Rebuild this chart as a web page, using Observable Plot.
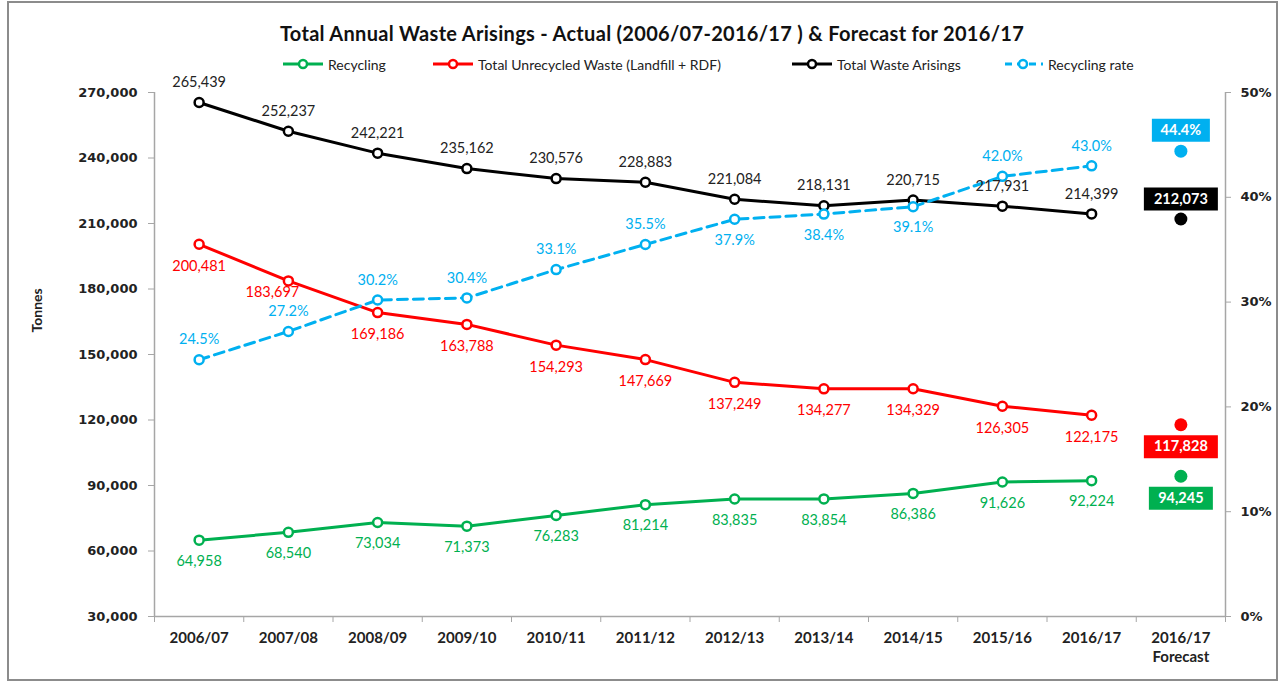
<!DOCTYPE html>
<html><head><meta charset="utf-8">
<script src="https://cdn.jsdelivr.net/npm/d3@7"></script>
<script src="https://cdn.jsdelivr.net/npm/@observablehq/plot@0.6"></script>
<style>
body{margin:0;background:#fff;}
#wrap{position:relative;width:1282px;height:682px;overflow:hidden;font-family:Lato,"Noto Sans",sans-serif;background:#fff;}
#border{position:absolute;left:7px;top:1px;width:1267px;height:676px;border:2px solid #8c8c8c;pointer-events:none;}
#title{height:50px;box-sizing:border-box;padding-top:22px;line-height:22px;font-size:20px;letter-spacing:0.3px;font-weight:bold;color:#111;text-align:center;padding-left:22px;white-space:nowrap;}
#legend{position:relative;height:28px;font-size:14px;color:#222;}
.item{position:absolute;top:0;height:28px;display:flex;align-items:center;white-space:nowrap;}
.item svg{margin-right:5px}
#chart svg{display:block;}
</style></head>
<body>
<div id="wrap">
  <div id="title">Total Annual Waste Arisings - Actual (2006/07-2016/17 ) &amp; Forecast for 2016/17</div>
  <div id="legend"></div>
  <div id="chart"></div>
  <div id="border"></div>
</div>
<script>
// ---- data ----
const categories = ["2006/07","2007/08","2008/09","2009/10","2010/11","2011/12","2012/13","2013/14","2014/15","2015/16","2016/17","2016/17\nForecast"];
const recycling  = [64958, 68540, 73034, 71373, 76283, 81214, 83835, 83854, 86386, 91626, 92224];
const unrecycled = [200481, 183697, 169186, 163788, 154293, 147669, 137249, 134277, 134329, 126305, 122175];
const totalWaste = [265439, 252237, 242221, 235162, 230576, 228883, 221084, 218131, 220715, 217931, 214399];
const recyclingRate = [24.5, 27.2, 30.2, 30.4, 33.1, 35.5, 37.9, 38.4, 39.1, 42.0, 43.0];
const forecastRecycling = 94245;
const forecastUnrecycled = 117828;
const forecastTotal = 212073;
const forecastRate = 44.4;
const tonnesTicks = [30000, 60000, 90000, 120000, 150000, 180000, 210000, 240000, 270000];
const rateTicks = [0, 10, 20, 30, 40, 50];
const seriesNames = ["Recycling", "Total Unrecycled Waste (Landfill + RDF)", "Total Waste Arisings", "Recycling rate"];

// ---- styles ----
const GREEN = "#00B050", RED = "#FF0000", BLACK = "#000000", BLUE = "#00B0F0";
const AXIS = "#a6a6a6", TXT = "#222";
const leftDomain = [30000, 270000], rightDomain = [0, 50];
const rateToT = d3.scaleLinear().domain(rightDomain).range(leftDomain);
const fmt = d3.format(",");
const pct = d => d.toFixed(1) + "%";

const nActual = recyclingRate.length;
const rows = d3.range(nActual).map(i => ({
  i, rec: recycling[i], unr: unrecycled[i], tot: totalWaste[i],
  rate: recyclingRate[i], rateT: rateToT(recyclingRate[i])
}));
const fi = categories.length - 1;

// legend
const legend = document.getElementById("legend");
const legendStyle = [
  {color: GREEN, dash: null, left: 283},
  {color: RED, dash: null, left: 433},
  {color: BLACK, dash: null, left: 792},
  {color: BLUE, dash: "7,5", left: 1003}
];
seriesNames.forEach((name, k) => {
  const s = legendStyle[k];
  const div = document.createElement("div");
  div.className = "item";
  div.style.left = s.left + "px";
  div.innerHTML = `<svg width="40" height="14"><line x1="0" y1="7" x2="40" y2="7" stroke="${s.color}" stroke-width="3" ${s.dash ? `stroke-dasharray="${s.dash}" stroke-dashoffset="-2"` : ""}/><circle cx="20" cy="7" r="4" fill="white" stroke="${s.color}" stroke-width="2.5"/></svg><span>${name}</span>`;
  legend.appendChild(div);
});

function box(w, h) {
  return {draw(ctx) {
    ctx.moveTo(-w / 2, -h / 2); ctx.lineTo(w / 2, -h / 2);
    ctx.lineTo(w / 2, h / 2); ctx.lineTo(-w / 2, h / 2); ctx.closePath();
  }};
}

const labelFont = {fontSize: 14.5, fontFamily: "Lato, sans-serif"};
const boxFont = {fontSize: 14.5, fontFamily: "Lato, sans-serif", fontWeight: "bold", fill: "white"};

const forecastItems = [
  {y: rateToT(forecastRate), text: pct(forecastRate), color: BLUE, dy: -21, w: 58},
  {y: forecastTotal, text: fmt(forecastTotal), color: BLACK, dy: -20, w: 74},
  {y: forecastUnrecycled, text: fmt(forecastUnrecycled), color: RED, dy: 22, w: 74},
  {y: forecastRecycling, text: fmt(forecastRecycling), color: GREEN, dy: 22, w: 64},
];

const blueBelow = new Set([6, 7, 8]);

const plot = Plot.plot({
  width: 1282, height: 604,
  marginTop: 14, marginBottom: 66, marginLeft: 154, marginRight: 57,
  x: {type: "linear", domain: [-0.5, categories.length - 0.5], axis: null},
  y: {type: "linear", domain: leftDomain, axis: null},
  style: {fontFamily: "Lato, sans-serif", overflow: "visible"},
  marks: [
    // frame lines
    Plot.ruleY([leftDomain[0]], {stroke: AXIS, strokeWidth: 1.5}),
    Plot.ruleX([-0.5, categories.length - 0.5], {y1: leftDomain[0], y2: leftDomain[1], stroke: AXIS, strokeWidth: 1.5}),
    // left axis
    Plot.axisY({anchor: "left", ticks: tonnesTicks, tickFormat: fmt, tickSize: 6, tickPadding: 11,
      stroke: AXIS, fill: TXT, fontWeight: "bold", fontSize: 13, fontFamily: "DejaVu Sans", label: null}),
    // right axis
    Plot.axisY({anchor: "right", ticks: rateTicks.map(rateToT), tickFormat: v => Math.round(rateToT.invert(v)) + "%",
      tickSize: 5, tickPadding: 10, stroke: AXIS, fill: TXT, fontWeight: "bold", fontSize: 13, fontFamily: "DejaVu Sans", label: null}),
    // bottom axis: boundary ticks
    Plot.axisX({anchor: "bottom", ticks: d3.range(-0.5, categories.length, 1), tickSize: 6, tickFormat: () => "", stroke: AXIS, label: null}),
    // bottom axis: category labels
    Plot.axisX({anchor: "bottom", ticks: d3.range(categories.length), tickSize: 0, tickPadding: 13,
      tickFormat: i => categories[i], fill: TXT, fontWeight: "bold", fontSize: 15, lineHeight: 1.25, label: null}),
    // y label
    Plot.text(["Tonnes"], {frameAnchor: "left", rotate: -90, dx: -117, dy: -22, fontWeight: "bold", fontSize: 14, fill: TXT}),

    // series lines & dots
    Plot.line(rows, {x: "i", y: "rec", stroke: GREEN, strokeWidth: 3}),
    Plot.line(rows, {x: "i", y: "unr", stroke: RED, strokeWidth: 3}),
    Plot.line(rows, {x: "i", y: "tot", stroke: BLACK, strokeWidth: 3}),
    Plot.line(rows, {x: "i", y: "rateT", stroke: BLUE, strokeWidth: 3, strokeDasharray: "10,6"}),
    Plot.dot(rows, {x: "i", y: "rec", r: 4.5, fill: "white", stroke: GREEN, strokeWidth: 2.5}),
    Plot.dot(rows, {x: "i", y: "unr", r: 4.5, fill: "white", stroke: RED, strokeWidth: 2.5}),
    Plot.dot(rows, {x: "i", y: "tot", r: 4.5, fill: "white", stroke: BLACK, strokeWidth: 2.5}),
    Plot.dot(rows, {x: "i", y: "rateT", r: 4.5, fill: "white", stroke: BLUE, strokeWidth: 2.5}),

    // data labels
    Plot.text(rows, {x: "i", y: "rec", text: d => fmt(d.rec), dy: 21, fill: GREEN, ...labelFont}),
    Plot.text(rows, {filter: d => d.i !== 1, x: "i", y: "unr", text: d => fmt(d.unr), dy: 22, fill: RED, ...labelFont}),
    Plot.text(rows, {filter: d => d.i === 1, x: "i", y: "unr", text: d => fmt(d.unr), dy: 11, dx: -16, fill: RED, ...labelFont}),
    Plot.text(rows, {x: "i", y: "tot", text: d => fmt(d.tot), dy: -20, fill: TXT, ...labelFont}),
    Plot.text(rows, {filter: d => !blueBelow.has(d.i), x: "i", y: "rateT", text: d => pct(d.rate), dy: -20, fill: BLUE, ...labelFont}),
    Plot.text(rows, {filter: d => blueBelow.has(d.i), x: "i", y: "rateT", text: d => pct(d.rate), dy: 21, fill: BLUE, ...labelFont}),

    // forecast
    ...forecastItems.flatMap(f => [
      Plot.dot([f], {x: () => fi, y: "y", r: 6.5, fill: f.color, stroke: "none"}),
      Plot.dot([f], {x: () => fi, y: "y", dy: f.dy, symbol: box(f.w, 23), r: 5, fill: f.color, stroke: "none"}),
      Plot.text([f], {x: () => fi, y: "y", text: "text", dy: f.dy, ...boxFont}),
    ]),
  ]
});
document.getElementById("chart").appendChild(plot);
</script>
</body></html>
